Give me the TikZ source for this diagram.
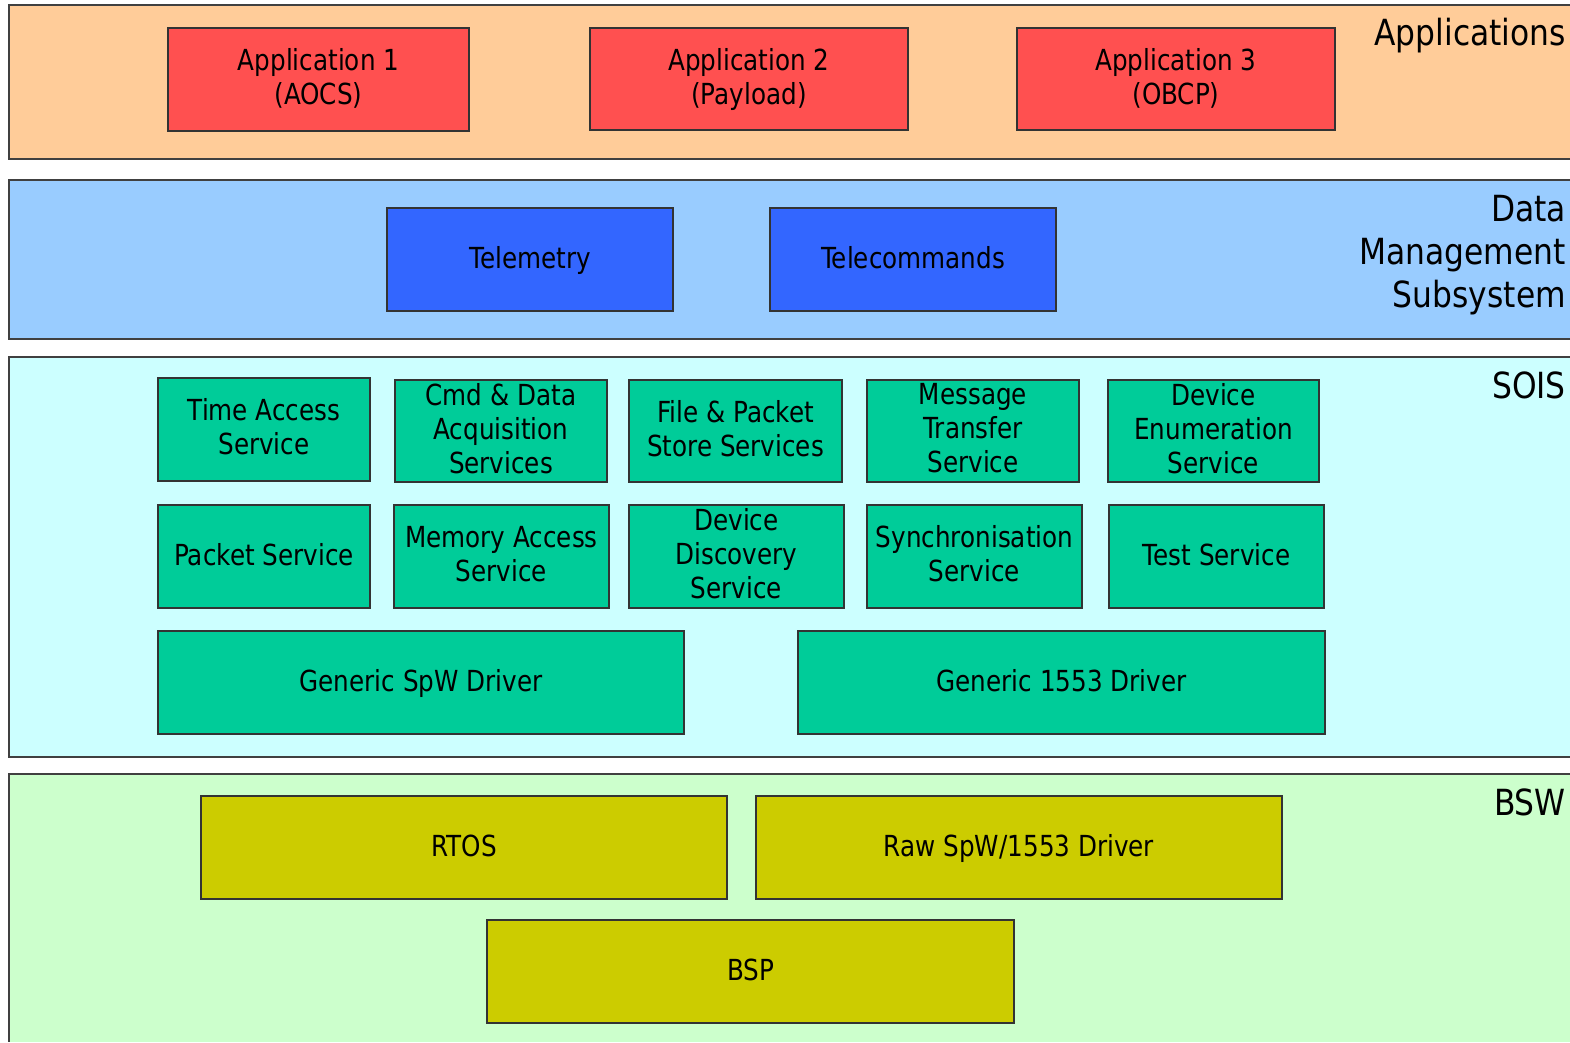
\documentclass[tikz,border=0pt]{standalone}
\usepackage{fontspec}
\setmainfont{DejaVu Sans}[FakeStretch=0.85]
\newfontfamily\labelfont{DejaVu Sans}[FakeStretch=0.87]
% struts fixing the height of the first line and the depth of the last
\newcommand\boxstrut{\rule[-8.5pt]{0pt}{34pt}}
\newcommand\topstrut{\rule{0pt}{28.5pt}}
\newcommand\bottomstrut{\rule[-5.5pt]{0pt}{5.5pt}}
\begin{document}
\begin{tikzpicture}[x=1pt,y=-1pt,
  layerline/.style={draw=black!75,line width=1.3pt},
  blk/.style={draw=black!80,line width=1.2pt,inner sep=0pt,align=center,
    font=\fontsize{29}{34}\selectfont},
  single/.style={execute at begin node=\boxstrut, execute at end node=\boxstrut},
  multi/.style={execute at begin node=\topstrut, execute at end node=\bottomstrut},
  appbox/.style={blk,multi,fill=appred},
  dmsbox/.style={blk,single,fill=dmsblue},
  soisbox/.style={blk,fill=soisgreen},
  bswbox/.style={blk,single,fill=bswolive},
  layerlabel/.style={inner sep=0pt,align=right,anchor=base east,
    font=\labelfont\fontsize{36}{43}\selectfont}]
\definecolor{appbg}{HTML}{FFCC99}
\definecolor{appred}{HTML}{FF5050}
\definecolor{dmsbg}{HTML}{99CCFF}
\definecolor{dmsblue}{HTML}{3366FF}
\definecolor{soisbg}{HTML}{CCFFFF}
\definecolor{soisgreen}{HTML}{00CC99}
\definecolor{bswbg}{HTML}{CCFFCC}
\definecolor{bswolive}{HTML}{CCCC00}
\useasboundingbox (0,0) rectangle (1570,1042);
\fill[white] (0,0) rectangle (1570,1042);

% layer bands, open on the right
\fill[appbg] (9,5) rectangle (1570,159);
\draw[layerline] (1570,5) -- (9,5) -- (9,159) -- (1570,159);
\fill[dmsbg] (9,180) rectangle (1570,339);
\draw[layerline] (1570,180) -- (9,180) -- (9,339) -- (1570,339);
\fill[soisbg] (9,357) rectangle (1570,757);
\draw[layerline] (1570,357) -- (9,357) -- (9,757) -- (1570,757);
\fill[bswbg] (9,774) rectangle (1570,1042);
\draw[layerline] (1570,774) -- (9,774) -- (9,1042);

% layer titles
\node[layerlabel] (lapp) at (1566,45) {Applications};
\node[layerlabel] (ldms) at (1566,307) {Data\\Management\\Subsystem};
\node[layerlabel] (lsois) at (1566,398) {SOIS};
\node[layerlabel] (lbsw) at (1566,815) {BSW};

% applications
\node[appbox,minimum width=301,minimum height=103] (app1) at (318.5,79.5) {Application 1\\(AOCS)};
\node[appbox,minimum width=318,minimum height=102] (app2) at (749,79) {Application 2\\(Payload)};
\node[appbox,minimum width=318,minimum height=102] (app3) at (1176,79) {Application 3\\(OBCP)};

% data management
\node[dmsbox,minimum width=286,minimum height=103] (tm) at (530,259.5) {Telemetry};
\node[dmsbox,minimum width=286,minimum height=103] (tc) at (913,259.5) {Telecommands};

% SOIS services
\node[soisbox,multi,minimum width=212,minimum height=103] (tas) at (264,429.5) {Time Access\\Service};
\node[soisbox,multi,minimum width=212,minimum height=102] (cda) at (501,431) {Cmd \& Data\\Acquisition\\Services};
\node[soisbox,multi,minimum width=213,minimum height=102] (fps) at (735.5,431) {File \& Packet\\Store Services};
\node[soisbox,multi,minimum width=212,minimum height=102] (mts) at (973,431) {Message\\Transfer\\Service};
\node[soisbox,multi,minimum width=211,minimum height=102] (des) at (1213.5,431) {Device\\Enumeration\\Service};

\node[soisbox,single,minimum width=212,minimum height=103] (pks) at (264,556.5) {Packet Service};
\node[soisbox,multi,minimum width=215,minimum height=103] (mas) at (501.5,556.5) {Memory Access\\Service};
\node[soisbox,multi,minimum width=215,minimum height=103] (dds) at (736.5,556.5) {Device\\Discovery\\Service};
\node[soisbox,multi,minimum width=215,minimum height=103] (sys) at (974.5,556.5) {Synchronisation\\Service};
\node[soisbox,single,minimum width=215,minimum height=103] (tst) at (1216.5,556.5) {Test Service};

\node[soisbox,single,minimum width=526,minimum height=103] (spw) at (421,682.5) {Generic SpW Driver};
\node[soisbox,single,minimum width=527,minimum height=103] (mil) at (1061.5,682.5) {Generic 1553 Driver};

% basic software
\node[bswbox,minimum width=526,minimum height=103] (rtos) at (464,847.5) {RTOS};
\node[bswbox,minimum width=526,minimum height=103] (raw) at (1019,847.5) {Raw SpW/1553 Driver};
\node[bswbox,minimum width=527,minimum height=103] (bsp) at (750.5,971.5) {BSP};
\end{tikzpicture}
\end{document}
